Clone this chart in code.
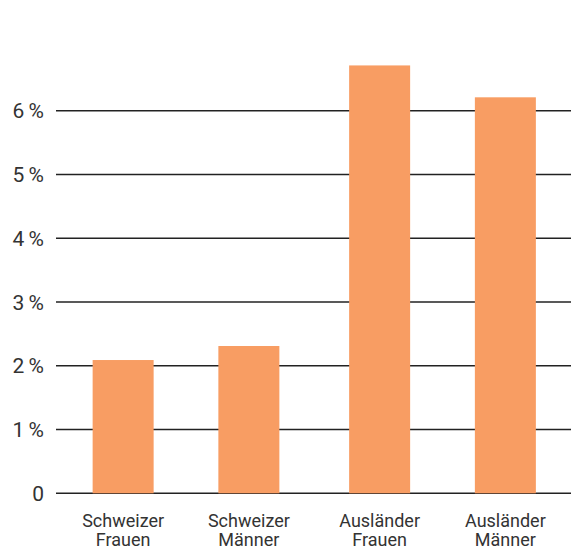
<!DOCTYPE html>
<html>
<head>
<meta charset="utf-8">
<script src="https://cdn.jsdelivr.net/npm/d3@7"></script>
<style>
  body { margin: 0; background: #fff; }
  svg text { font-family: Roboto, "Noto Sans", sans-serif; fill: #333; }
</style>
</head>
<body>
<div id="chart"></div>
<script>
// groups and categories
var groups = ['Schweizer', 'Ausländer'];
var subgroups = ['Frauen', 'Männer'];

// values in percent
var values = [
  { group: 'Schweizer', sub: 'Frauen', value: 2.09 },
  { group: 'Schweizer', sub: 'Männer', value: 2.31 },
  { group: 'Ausländer', sub: 'Frauen', value: 6.71 },
  { group: 'Ausländer', sub: 'Männer', value: 6.21 },
];

var yTicks = [0, 1, 2, 3, 4, 5, 6];

var width = 571,
  height = 552;
var margin = { left: 56 };

var svg = d3
  .select('#chart')
  .append('svg')
  .attr('width', width)
  .attr('height', height);

// scales
var yScale = d3
  .scaleLinear()
  .domain([0, 6])
  .range([493.3, 110.7]);

var xGroup = d3
  .scaleBand()
  .domain(groups)
  .range([57.75, 570.75]);

var xSub = d3
  .scalePoint()
  .domain(subgroups)
  .range([0, xGroup.bandwidth()])
  .padding(0.52);

var barWidth = 61;

function xCenter(d) {
  return xGroup(d.group) + xSub(d.sub);
}

// gridlines
svg
  .selectAll('.grid')
  .data(yTicks)
  .enter()
  .append('line')
  .attr('x1', margin.left)
  .attr('x2', width)
  .attr('y1', function (d) { return yScale(d); })
  .attr('y2', function (d) { return yScale(d); })
  .attr('stroke', '#222')
  .attr('stroke-width', 1.4);

// tick labels
svg
  .selectAll('.ytick')
  .data(yTicks)
  .enter()
  .append('text')
  .attr('x', 44)
  .attr('y', function (d) { return yScale(d); })
  .attr('dy', '0.36em')
  .attr('text-anchor', 'end')
  .style('font-size', '21px')
  .text(function (d) { return d === 0 ? '0' : d + '\u2009%'; });

// bars
svg
  .selectAll('.bar')
  .data(values)
  .enter()
  .append('rect')
  .attr('x', function (d) { return xCenter(d) - barWidth / 2; })
  .attr('y', function (d) { return yScale(d.value); })
  .attr('width', barWidth)
  .attr('height', function (d) { return yScale(0) - yScale(d.value); })
  .attr('fill', '#f89d63');

// x labels, first line: group
svg
  .selectAll('.xlabel1')
  .data(values)
  .enter()
  .append('text')
  .attr('text-anchor', 'middle')
  .attr('x', xCenter)
  .attr('y', 526.5)
  .style('font-size', '18px')
  .text(function (d) { return d.group; });

// x labels, second line: sex
svg
  .selectAll('.xlabel2')
  .data(values)
  .enter()
  .append('text')
  .attr('text-anchor', 'middle')
  .attr('x', xCenter)
  .attr('y', 546)
  .style('font-size', '18px')
  .text(function (d) { return d.sub; });
</script>
</body>
</html>
